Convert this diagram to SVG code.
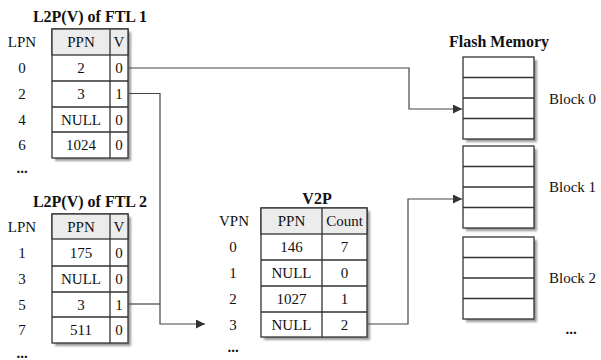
<svg xmlns="http://www.w3.org/2000/svg" width="601" height="360" viewBox="0 0 601 360">
  <style>
    text { font-family: "Liberation Serif", "Times New Roman", serif; fill: #111; }
    .t { font-size: 15px; text-anchor: middle; }
    .title { font-size: 16px; font-weight: bold; text-anchor: middle; }
    .dots { font-size: 15px; font-weight: bold; text-anchor: middle; }
    .lbl { font-size: 15px; text-anchor: start; }
    .cell { fill: #fff; stroke: #333; stroke-width: 1.3; }
    .head { fill: #ececec; stroke: #333; stroke-width: 1.3; }
    .grid { stroke: #333; stroke-width: 1.3; fill: none; }
    .shadow { fill: #9a9a9a; filter: url(#soft); }
    .wire { fill: none; stroke: #444; stroke-width: 1.2; }
  </style>
  <defs>
    <filter id="soft" x="-10%" y="-10%" width="120%" height="120%">
      <feGaussianBlur stdDeviation="0.8"/>
    </filter>
    <marker id="arrow" viewBox="0 0 10 10" refX="10" refY="5" markerWidth="10" markerHeight="9" markerUnits="userSpaceOnUse" orient="auto">
      <path d="M0,0 L10,5 L0,10 Z" fill="#333"/>
    </marker>
  </defs>

  <!-- L2P(V) table of FTL 1 -->
  <g id="ftl1">
    <text class="title" x="90" y="22">L2P(V) of FTL 1</text>
    <rect class="shadow" x="55" y="32" width="76" height="129"/>
    <rect class="cell" x="52" y="29" width="76" height="129"/>
    <rect class="head" x="52" y="29" width="76" height="26"/>
    <path class="grid" d="M110,29 V158 M52,81 H128 M52,107 H128 M52,132 H128"/>
    <text class="t" x="22" y="47">LPN</text>
    <text class="t" x="81" y="47">PPN</text>
    <text class="t" x="119" y="47">V</text>
    <text class="t" x="22" y="73">0</text><text class="t" x="81" y="73">2</text><text class="t" x="119" y="73">0</text>
    <text class="t" x="22" y="99">2</text><text class="t" x="81" y="99">3</text><text class="t" x="119" y="99">1</text>
    <text class="t" x="22" y="125">4</text><text class="t" x="81" y="125">NULL</text><text class="t" x="119" y="125">0</text>
    <text class="t" x="22" y="150">6</text><text class="t" x="81" y="150">1024</text><text class="t" x="119" y="150">0</text>
    <text class="dots" x="22" y="173">...</text>
  </g>

  <!-- L2P(V) table of FTL 2 -->
  <g id="ftl2">
    <text class="title" x="90" y="207">L2P(V) of FTL 2</text>
    <rect class="shadow" x="55" y="217" width="76" height="129"/>
    <rect class="cell" x="52" y="214" width="76" height="129"/>
    <rect class="head" x="52" y="214" width="76" height="25"/>
    <path class="grid" d="M110,214 V343 M52,266 H128 M52,292 H128 M52,317 H128"/>
    <text class="t" x="22" y="232">LPN</text>
    <text class="t" x="81" y="232">PPN</text>
    <text class="t" x="119" y="232">V</text>
    <text class="t" x="22" y="258">1</text><text class="t" x="81" y="258">175</text><text class="t" x="119" y="258">0</text>
    <text class="t" x="22" y="284">3</text><text class="t" x="81" y="284">NULL</text><text class="t" x="119" y="284">0</text>
    <text class="t" x="22" y="310">5</text><text class="t" x="81" y="310">3</text><text class="t" x="119" y="310">1</text>
    <text class="t" x="22" y="335">7</text><text class="t" x="81" y="335">511</text><text class="t" x="119" y="335">0</text>
    <text class="dots" x="22" y="358">...</text>
  </g>

  <!-- V2P table -->
  <g id="v2p">
    <text class="title" x="317" y="204">V2P</text>
    <rect class="shadow" x="264" y="211" width="106" height="129"/>
    <rect class="cell" x="261" y="208" width="106" height="129"/>
    <rect class="head" x="261" y="208" width="106" height="26"/>
    <path class="grid" d="M322,208 V337 M261,260 H367 M261,286 H367 M261,312 H367"/>
    <text class="t" x="234" y="226">VPN</text>
    <text class="t" x="291.5" y="226">PPN</text>
    <text class="t" x="344.5" y="226">Count</text>
    <text class="t" x="233" y="252">0</text><text class="t" x="291.5" y="252">146</text><text class="t" x="344.5" y="252">7</text>
    <text class="t" x="233" y="278">1</text><text class="t" x="291.5" y="278">NULL</text><text class="t" x="344.5" y="278">0</text>
    <text class="t" x="233" y="304">2</text><text class="t" x="291.5" y="304">1027</text><text class="t" x="344.5" y="304">1</text>
    <text class="t" x="233" y="330">3</text><text class="t" x="291.5" y="330">NULL</text><text class="t" x="344.5" y="330">2</text>
    <text class="dots" x="233" y="352">...</text>
  </g>

  <!-- Flash memory blocks -->
  <g id="flash">
    <text class="title" x="499" y="47">Flash Memory</text>
  </g>
  <g id="block0">
    <rect class="shadow" x="466" y="60" width="71" height="82"/>
    <rect class="cell" x="463" y="57" width="71" height="82"/>
    <path class="grid" d="M463,77.5 H534 M463,98 H534 M463,118.5 H534"/>
    <text class="lbl" x="549" y="104">Block 0</text>
  </g>
  <g id="block1">
    <rect class="shadow" x="466" y="149" width="71" height="82"/>
    <rect class="cell" x="463" y="146" width="71" height="82"/>
    <path class="grid" d="M463,166.5 H534 M463,187 H534 M463,207.5 H534"/>
    <text class="lbl" x="549" y="192">Block 1</text>
  </g>
  <g id="block2">
    <rect class="shadow" x="466" y="240" width="71" height="82"/>
    <rect class="cell" x="463" y="237" width="71" height="82"/>
    <path class="grid" d="M463,257.5 H534 M463,278 H534 M463,298.5 H534"/>
    <text class="lbl" x="549" y="283">Block 2</text>
    <text class="dots" x="571" y="334">...</text>
  </g>

  <!-- Connectors -->
  <g id="connectors">
    <path class="wire" d="M129,68 H409 V109 H462" marker-end="url(#arrow)"/>
    <path class="wire" d="M129,93.5 H160 V324 H205" marker-end="url(#arrow)"/>
    <path class="wire" d="M129,304 H160"/>
    <path class="wire" d="M368,324 H408 V199 H462" marker-end="url(#arrow)"/>
  </g>
</svg>
